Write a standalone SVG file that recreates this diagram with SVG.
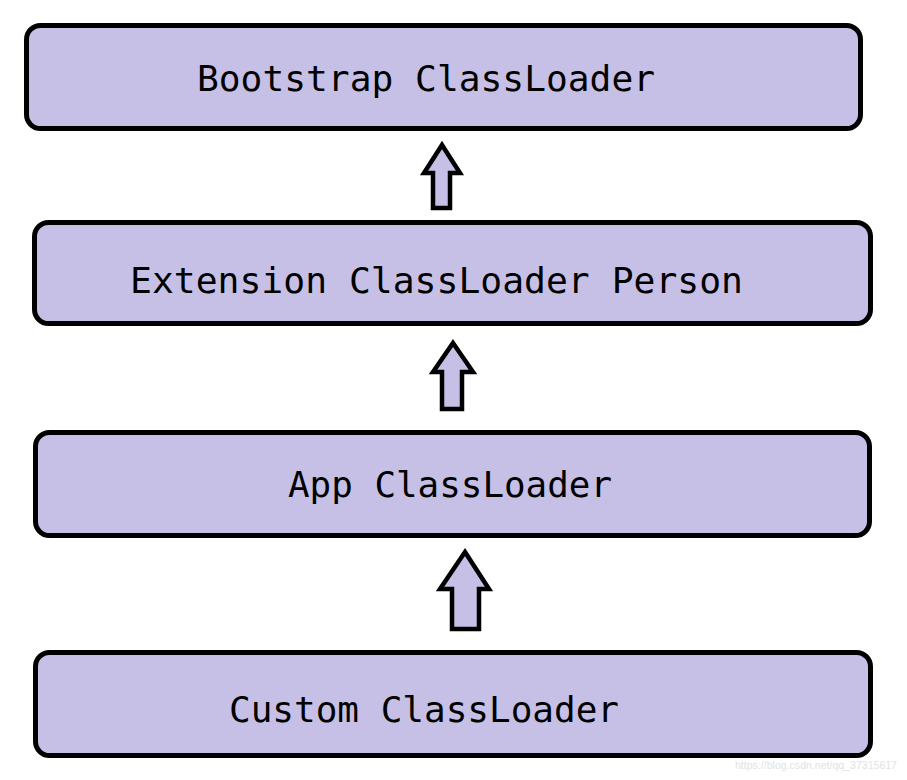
<svg xmlns="http://www.w3.org/2000/svg" width="907" height="780" viewBox="0 0 907 780">
<style>
.box{fill:#c7c0e6;stroke:#000;stroke-width:5}
.arrow{fill:#c7c0e6;stroke:#000;stroke-width:4.5;stroke-linejoin:miter}
.label{font-family:"DejaVu Sans Mono","Liberation Mono",monospace;font-size:36px;fill:#000}
.wm{font-family:"Liberation Sans",Arial,sans-serif;font-size:11px;fill:#e2e2e2}
</style>
<rect width="907" height="780" fill="#fff"/>
<g id="connectors">
<polygon class="arrow" points="442,145 460,173 450,173 450,208 433,208 433,173 424,173"/>
<polygon class="arrow" points="453,343 473,372 462,372 462,409 442,409 442,372 433,372"/>
<polygon class="arrow" points="465,552 489,589 479,589 479,629 452,629 452,589 440,589"/>
</g>
<g id="bootstrap">
<rect class="box" x="26.5" y="25.5" width="834" height="103" rx="14"/>
<text class="label" x="197" y="91" textLength="458" lengthAdjust="spacingAndGlyphs">Bootstrap ClassLoader</text>
</g>
<g id="extension">
<rect class="box" x="34.5" y="222.5" width="836" height="101" rx="14"/>
<text class="label" x="130" y="293" textLength="613" lengthAdjust="spacingAndGlyphs">Extension ClassLoader Person</text>
</g>
<g id="app">
<rect class="box" x="35.5" y="432.5" width="834" height="103" rx="14"/>
<text class="label" x="288" y="497" textLength="324" lengthAdjust="spacingAndGlyphs">App ClassLoader</text>
</g>
<g id="custom">
<rect class="box" x="35.5" y="652.5" width="835" height="103" rx="14"/>
<text class="label" x="229" y="722" textLength="390" lengthAdjust="spacingAndGlyphs">Custom ClassLoader</text>
</g>
<text class="wm" x="735" y="769" textLength="162" lengthAdjust="spacingAndGlyphs">https://blog.csdn.net/qq_37315617</text>
</svg>
